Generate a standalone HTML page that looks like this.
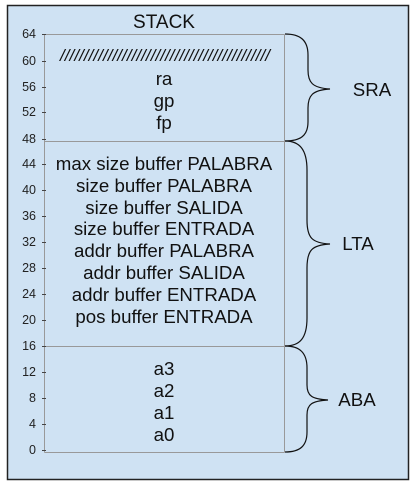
<!DOCTYPE html>
<html><head><style>html,body{margin:0;padding:0;background:#fff}svg{display:block}</style></head><body>
<svg width="413" height="484" viewBox="0 0 413 484" xmlns="http://www.w3.org/2000/svg" font-family="Liberation Sans, Arial, sans-serif">
<rect x="7.5" y="5.5" width="401" height="474" fill="#cfe2f3" stroke="#222" stroke-width="1.5"/>
<text x="164" y="28" font-size="19" text-anchor="middle" fill="#111">STACK</text>
<g fill="none" stroke="#999" stroke-width="1">
<line x1="44.5" y1="34.5" x2="284.5" y2="34.5"/>
<line x1="44.5" y1="141.5" x2="284.5" y2="141.5"/>
<line x1="44.5" y1="346.5" x2="284.5" y2="346.5"/>
<line x1="44.5" y1="452.5" x2="284.5" y2="452.5"/>
<line x1="284.5" y1="34.5" x2="284.5" y2="452.5"/>
<line x1="44.5" y1="34.5" x2="44.5" y2="452.5"/>
</g>
<g stroke="#444" stroke-width="1">
<line x1="42" y1="34.5" x2="46" y2="34.5"/><line x1="42" y1="61.5" x2="46" y2="61.5"/><line x1="42" y1="87.5" x2="46" y2="87.5"/><line x1="42" y1="112.5" x2="46" y2="112.5"/><line x1="42" y1="139.5" x2="46" y2="139.5"/><line x1="42" y1="164.5" x2="46" y2="164.5"/><line x1="42" y1="190.5" x2="46" y2="190.5"/><line x1="42" y1="216.5" x2="46" y2="216.5"/><line x1="42" y1="242.5" x2="46" y2="242.5"/><line x1="42" y1="268.5" x2="46" y2="268.5"/><line x1="42" y1="294.5" x2="46" y2="294.5"/><line x1="42" y1="320.5" x2="46" y2="320.5"/><line x1="42" y1="346.5" x2="46" y2="346.5"/><line x1="42" y1="372.5" x2="46" y2="372.5"/><line x1="42" y1="398.5" x2="46" y2="398.5"/><line x1="42" y1="424.5" x2="46" y2="424.5"/><line x1="42" y1="450.5" x2="46" y2="450.5"/>
</g>
<g font-size="12.5" text-anchor="end" fill="#222">
<text x="36" y="38">64</text><text x="36" y="65">60</text><text x="36" y="91">56</text><text x="36" y="116">52</text><text x="36" y="143">48</text><text x="36" y="168">44</text><text x="36" y="194">40</text><text x="36" y="220">36</text><text x="36" y="246">32</text><text x="36" y="272">28</text><text x="36" y="298">24</text><text x="36" y="324">20</text><text x="36" y="350">16</text><text x="36" y="376">12</text><text x="36" y="402">8</text><text x="36" y="428">4</text><text x="36" y="454">0</text>
</g>
<text x="60" y="61" font-size="17" font-style="italic" fill="#111" textLength="210" lengthAdjust="spacing">////////////////////////////////////////////</text>
<g font-size="18.7" text-anchor="middle" fill="#111">
<text x="164" y="85">ra</text><text x="164" y="107">gp</text><text x="164" y="129">fp</text>
<text x="164" y="170">max size buffer PALABRA</text>
<text x="164" y="192">size buffer PALABRA</text>
<text x="164" y="214">size buffer SALIDA</text>
<text x="164" y="235">size buffer ENTRADA</text>
<text x="164" y="257">addr buffer PALABRA</text>
<text x="164" y="279">addr buffer SALIDA</text>
<text x="164" y="301">addr buffer ENTRADA</text>
<text x="164" y="323">pos buffer ENTRADA</text>
<text x="164" y="375">a3</text><text x="164" y="397">a2</text><text x="164" y="419">a1</text><text x="164" y="441">a0</text>
<text x="372" y="96">SRA</text><text x="358" y="250">LTA</text><text x="357" y="406">ABA</text>
</g>
<g fill="none" stroke="#111" stroke-width="1.2">
<path d="M285 34 C300 34 308 40 308 55 L308 70 C308 82 312 88 330 89 C312 90 308 96 308 108 L308 122 C308 136 300 141 285 141"/>
<path d="M285 141 C300 141 307 150 307 170 L307 220 C307 238 312 243 330 244 C312 245 307 250 307 268 L307 318 C307 338 300 346 285 346"/>
<path d="M285 346 C300 346 307 353 307 368 L307 385 C307 396 312 399 328 400 C312 401 307 404 307 415 L307 432 C307 446 300 452 285 452"/>
</g>
</svg>
</body></html>
